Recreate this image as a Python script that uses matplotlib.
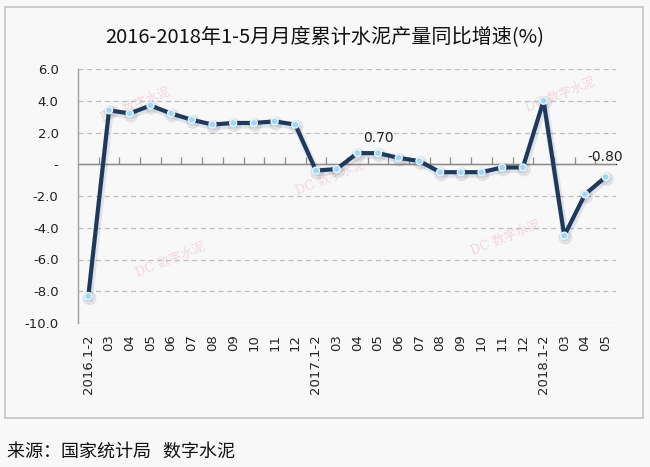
import matplotlib
matplotlib.use("Agg")
from matplotlib import pyplot as plt
from matplotlib import patheffects as pe
from matplotlib.patches import Rectangle

plt.rcParams['font.family'] = ['DejaVu Sans', 'Noto Sans CJK SC']

# 月份标签
months = ['2016.1-2', '03', '04', '05', '06', '07', '08', '09', '10', '11', '12',
          '2017.1-2', '03', '04', '05', '06', '07', '08', '09', '10', '11', '12',
          '2018.1-2', '03', '04', '05']
# 累计同比增速 (%)
growth = [-8.3, 3.4, 3.2, 3.7, 3.2, 2.8, 2.5, 2.6, 2.6, 2.7, 2.5,
          -0.4, -0.3, 0.7, 0.7, 0.4, 0.2, -0.5, -0.5, -0.5, -0.2, -0.2,
          4.0, -4.5, -1.9, -0.8]
y_ticks = [6, 4, 2, 0, -2, -4, -6, -8, -10]
y_labels = ['6.0', '4.0', '2.0', '-', '-2.0', '-4.0', '-6.0', '-8.0', '-10.0']
labelled = {14: '0.70', 25: '-0.80'}

title = '2016-2018年1-5月月度累计水泥产量同比增速(%)'
source = '来源：国家统计局   数字水泥'

W, H = 650, 467
fig = plt.figure(figsize=(W / 100, H / 100), dpi=100, facecolor='#f8f8f8')

# 外框
fig.patches.append(Rectangle((5 / W, 1 - 418 / H), 638 / W, 411 / H,
                             transform=fig.transFigure, facecolor='none',
                             edgecolor='#c4c4c4', linewidth=1.2, zorder=-10))

ax = fig.add_axes([78 / W, 1 - 323 / H, 538 / W, 254 / H])
ax.set_facecolor('none')

x = list(range(len(months)))

# 水印
wm = [(135, 105), (170, 260), (330, 178), (560, 95), (505, 238)]
for px, py in wm:
    ax.text(px / W, 1 - py / H, 'DC 数字水泥', color='#e9b7c0', alpha=0.5,
            fontsize=9, rotation=22, ha='center', va='center',
            transform=fig.transFigure,
            family=['DejaVu Serif', 'Noto Sans CJK SC'], zorder=0.5)

ax.set_xlim(-0.5, len(months) - 0.5)
ax.set_ylim(-10, 6)

for v in y_ticks:
    if v != 0:
        ax.axhline(v, color='#bdbdbd', linestyle=(0, (4, 3)), linewidth=0.9, zorder=1)
ax.axhline(0, color='#8c8c8c', linewidth=1.0, zorder=2)

ax.plot(x, growth, color='#1d3a5e', linewidth=3.0, marker='o', markersize=5,
        markerfacecolor='#9fd6f2', markeredgecolor='#e8f6ff', markeredgewidth=1.0,
        solid_joinstyle='round', zorder=4,
        path_effects=[pe.SimpleLineShadow(offset=(0.8, -1.5), alpha=0.12, shadow_color='#3a4a60',
                                          linewidth=5),
                      pe.Normal()])

for i, txt in labelled.items():
    ax.annotate(txt, (x[i], growth[i]), xytext=(0, 6) if i == 14 else (0, 9),
                textcoords='offset points', ha='center', va='bottom',
                fontsize=10, color='#222222')

for s in ['top', 'right', 'bottom']:
    ax.spines[s].set_visible(False)
ax.spines['left'].set_color('#a0a0a0')
ax.spines['left'].set_linewidth(1.0)

ax.set_yticks(y_ticks)
ax.set_yticklabels(y_labels, fontsize=9.5, color='#222222')
ax.tick_params(axis='y', length=0, pad=14)

ax.set_xticks(x)
ax.set_xticklabels(months, rotation=90, fontsize=9.5, color='#222222')
ax.tick_params(axis='x', length=0, pad=8)

# 零轴上的刻度
sec = ax.secondary_xaxis(10 / 16)
sec.set_xticks([i + 0.5 for i in x[:-1]])
sec.set_xticklabels([])
sec.tick_params(axis='x', direction='out', length=5, color='#8c8c8c', width=0.9)
sec.spines['bottom'].set_visible(False)

fig.text(0.5, 1 - 37 / H, title, ha='center', va='center', fontsize=14.5,
         family=['Noto Sans CJK SC'], color='#111111')
fig.text(7 / W, 1 - 452 / H, source, ha='left', va='center', fontsize=13,
         family=['Noto Sans CJK SC'], color='#111111')

fig.savefig('out.png', dpi=100, facecolor=fig.get_facecolor())
